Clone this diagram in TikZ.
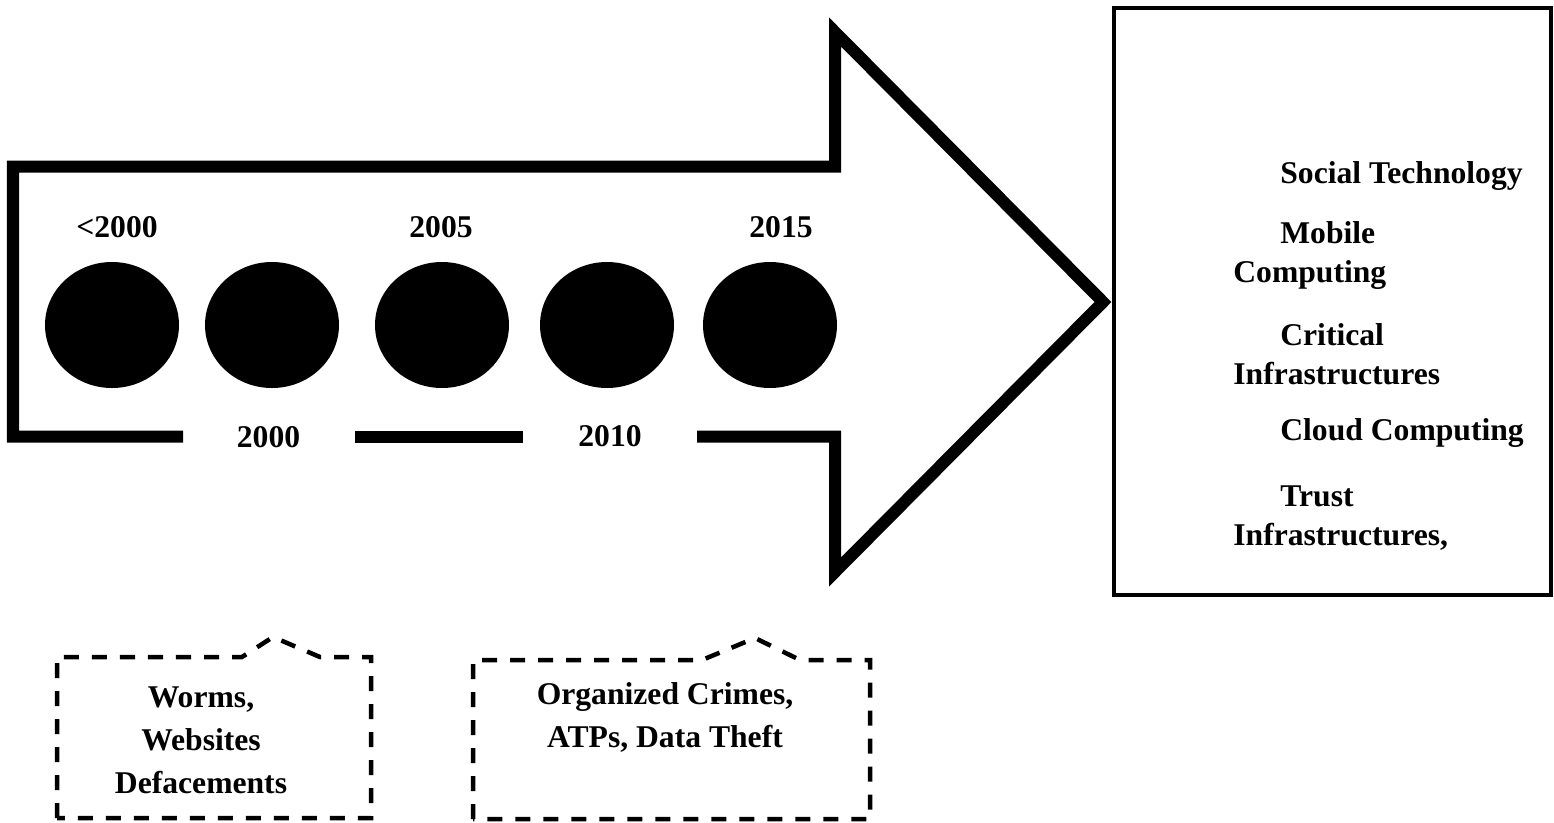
\documentclass[tikz,border=0pt]{standalone}
\usepackage{fontspec}
\setmainfont{Liberation Serif}
\usepackage{tikz}

\tikzset{
  yearlabel/.style={font=\fontsize{18}{22}\selectfont\bfseries, inner sep=0pt, anchor=base},
  threatbox/.style={dash pattern=on 0.3cm off 0.26cm, line width=0.09cm},
  threattext/.style={font=\fontsize{18}{24.4}\selectfont\bfseries, inner sep=0pt, align=center, anchor=base},
  itemtext/.style={font=\fontsize{18}{21.8}\selectfont\bfseries, inner sep=0pt, align=left, anchor=base west}
}

\begin{document}
\begin{tikzpicture}
    %\draw[step=1, gray, very thin] (0,0) grid (31,-16);
    \useasboundingbox (0,0) rectangle (31.08,-16.44);
    \begin{scope}[line width=0.24cm]
    \draw (3.66,-8.73) -- (0.26,-8.73) -- (0.26,-3.33) -- (16.7,-3.33) -- (16.7,-0.64)
      -- (22.06,-6.04) -- (16.7,-11.44) -- (16.7,-8.73) -- (13.94,-8.73);
    \draw (7.1,-8.73) -- (10.46,-8.73);
    \end{scope}
    \begin{scope}[x radius=1.34, y radius=1.26]
    \fill (2.24,-6.5) ellipse;
    \fill (5.44,-6.5) ellipse;
    \fill (8.84,-6.5) ellipse;
    \fill (12.14,-6.5) ellipse;
    \fill (15.4,-6.5) ellipse;
    \end{scope}
    \node[yearlabel] (before) at (2.34,-4.74) {<2000};
    \node[yearlabel] (y2005) at (8.82,-4.74) {2005};
    \node[yearlabel] (y2015) at (15.62,-4.74) {2015};
    \node[yearlabel] (y2000) at (5.37,-8.95) {2000};
    \node[yearlabel] (y2010) at (12.2,-8.93) {2010};

    % trends box
    \draw[line width=0.065cm] (22.28,-0.16) rectangle (31.02,-11.9);
    \node[itemtext] (social) at (25.6,-3.66) {Social Technology};
    \node[itemtext] (mobile) at (24.66,-5.64) {\hspace*{0.94cm}Mobile\\Computing};
    \node[itemtext] (critical) at (24.66,-7.68) {\hspace*{0.94cm}Critical\\Infrastructures};
    \node[itemtext] (cloud) at (25.6,-8.8) {Cloud Computing};
    \node[itemtext] (trust) at (24.66,-10.9) {\hspace*{0.94cm}Trust\\Infrastructures,};

    % threat callouts
    \begin{scope}[threatbox]
    \draw (1.14,-16.36) -- (1.14,-13.14) -- (4.84,-13.14) -- (5.46,-12.74) -- (6.4,-13.14)
      -- (7.42,-13.14) -- (7.42,-16.36) -- cycle;
    \draw (9.46,-16.38) -- (9.46,-13.2) -- (14.04,-13.2) -- (15.1,-12.76) -- (16.0,-13.2)
      -- (17.4,-13.2) -- (17.4,-16.38) -- cycle;
    \end{scope}
    \node[threattext] (early) at (4.02,-15.86) {Worms,\\Websites\\Defacements};
    \node[threattext] (late) at (13.3,-14.94) {Organized Crimes,\\ATPs, Data Theft};
\end{tikzpicture}
\end{document}
